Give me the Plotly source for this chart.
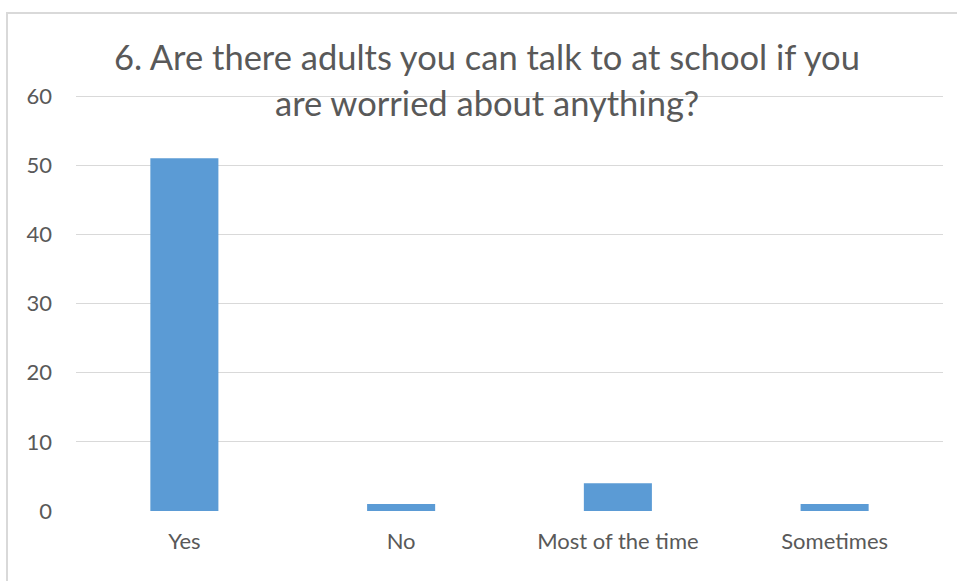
import plotly.graph_objects as go

categories = ["Yes", "No", "Most of the time", "Sometimes"]
counts = [51, 1, 4, 1]
y_ticks = [0, 10, 20, 30, 40, 50, 60]
title_lines = ["6. Are there adults you can talk to at school if you",
               "are worried about anything?"]

W, H = 957, 581
L, R, T, B = 76, 14, 92, 70
plot_w = W - L - R
plot_h = H - T - B
# 60 units span 415 px; leave a few px above 60 so its gridline is drawn
y_top = 60 * plot_h / 415

def px_x(px):
    return (px - L) / plot_w

def px_y(py):
    return (H - B - py) / plot_h

text_col = "#595959"
grid_col = "#D9D9D9"
font_fam = "Lato, Open Sans, sans-serif"

fig = go.Figure(go.Bar(x=categories, y=counts, marker=dict(color="#5B9BD5", line=dict(width=0)),
                       hoverinfo="skip"))

fig.update_layout(
    width=W, height=H,
    margin=dict(l=L, r=R, t=T, b=B),
    paper_bgcolor="white", plot_bgcolor="white",
    bargap=0.686,
    showlegend=False,
    font=dict(family=font_fam, color=text_col, size=22),
)
fig.update_xaxes(showgrid=False, showline=False, zeroline=False, ticks="",
                 tickfont=dict(size=22, color=text_col), ticklabelstandoff=15)
fig.update_yaxes(range=[0, y_top], tickvals=y_ticks, showgrid=True, gridcolor=grid_col, gridwidth=1,
                 zeroline=False, showline=False, ticks="",
                 tickfont=dict(size=22, color=text_col), ticklabelstandoff=23)

# chart border
fig.add_shape(type="rect", xref="paper", yref="paper",
              x0=px_x(7), x1=px_x(975), y0=px_y(13), y1=px_y(600),
              line=dict(color=grid_col, width=2), fillcolor="rgba(0,0,0,0)", layer="below")

for line, py in zip(title_lines, [57, 102]):
    fig.add_annotation(text=line, xref="paper", yref="paper", x=px_x(487), y=px_y(py),
                       xanchor="center", yanchor="middle", showarrow=False,
                       font=dict(family=font_fam, size=34.5, color=text_col))

fig.write_html("out.html", config={"displayModeBar": False},
               post_script="document.body.style.margin='0';")
